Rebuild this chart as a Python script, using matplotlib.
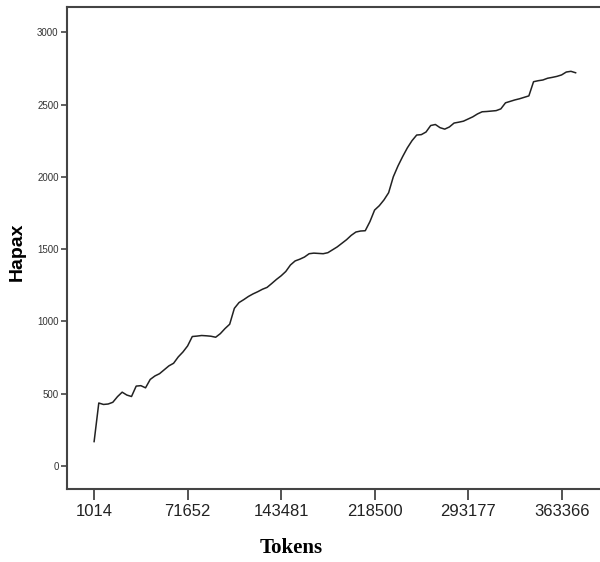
import matplotlib
matplotlib.use("Agg")
import matplotlib.pyplot as plt

# Hapax counts, one per sample (categorical x positions)
hapax = [168, 435, 425, 428, 440, 479, 510, 490, 480, 552,
         555, 540, 598, 622, 638, 665, 692, 710, 754, 788,
         830, 895, 898, 902, 900, 897, 890, 915, 950, 980,
         1090, 1130, 1150, 1172, 1190, 1205, 1222, 1235, 1262, 1290,
         1315, 1345, 1390, 1418, 1430, 1445, 1468, 1472, 1470, 1468,
         1475, 1495, 1515, 1540, 1565, 1595, 1618, 1625, 1627, 1690,
         1770, 1800, 1840, 1890, 2000, 2075, 2140, 2200, 2250, 2289,
         2292, 2310, 2355, 2362, 2340, 2330, 2345, 2372, 2378, 2385,
         2400, 2415, 2435, 2450, 2452, 2455, 2458, 2470, 2512, 2522,
         2532, 2540, 2550, 2560, 2658, 2665, 2670, 2682, 2688, 2695,
         2705, 2725, 2730, 2720]

tick_labels = ["1014", "71652", "143481", "218500", "293177", "363366"]
tick_positions = [0, 20, 40, 60, 80, 100]
y_ticks = [0, 500, 1000, 1500, 2000, 2500, 3000]

x = list(range(len(hapax)))

fig = plt.figure(figsize=(6.0, 5.62), dpi=100)
ax_w = 1 - 67/600 + 0.01
ax = fig.add_axes([67/600, 1 - 489/562, ax_w, (489 - 7)/562])

ax.plot(x, hapax, color="#222222", linewidth=1.1)

ax.set_xlim(-5.8, 109.5)
ax.set_ylim(-160, 3175)

ax.set_xticks(tick_positions)
ax.set_xticklabels(tick_labels, fontfamily="Liberation Sans", fontsize=12, color="#222222")
ax.set_yticks(y_ticks)
ax.set_yticklabels([str(v) for v in y_ticks], fontfamily="Liberation Sans", fontsize=7, color="#333333")

ax.tick_params(axis="x", length=8, width=1.3, color="#444444", pad=3, direction="out")
ax.tick_params(axis="y", length=4, width=1.2, color="#444444", pad=2, direction="out")

for side in ["left", "bottom", "top"]:
    ax.spines[side].set_linewidth(1.5)
    ax.spines[side].set_color("#444444")
ax.spines["right"].set_visible(False)

ax_w_px = ax_w * 600
ax_h_px = 489 - 7
ax.set_ylabel("Hapax", fontfamily="Liberation Sans", fontweight="bold", fontsize=14)
ax.yaxis.set_label_coords((26 - 67) / ax_w_px, (489 - 252) / ax_h_px)
ax.set_xlabel("Tokens", fontfamily="Liberation Serif", fontweight="bold", fontsize=15)
ax.xaxis.set_label_coords((291 - 67) / ax_w_px, (489 - 538) / ax_h_px)

fig.savefig("out.png", dpi=100, facecolor="white")
